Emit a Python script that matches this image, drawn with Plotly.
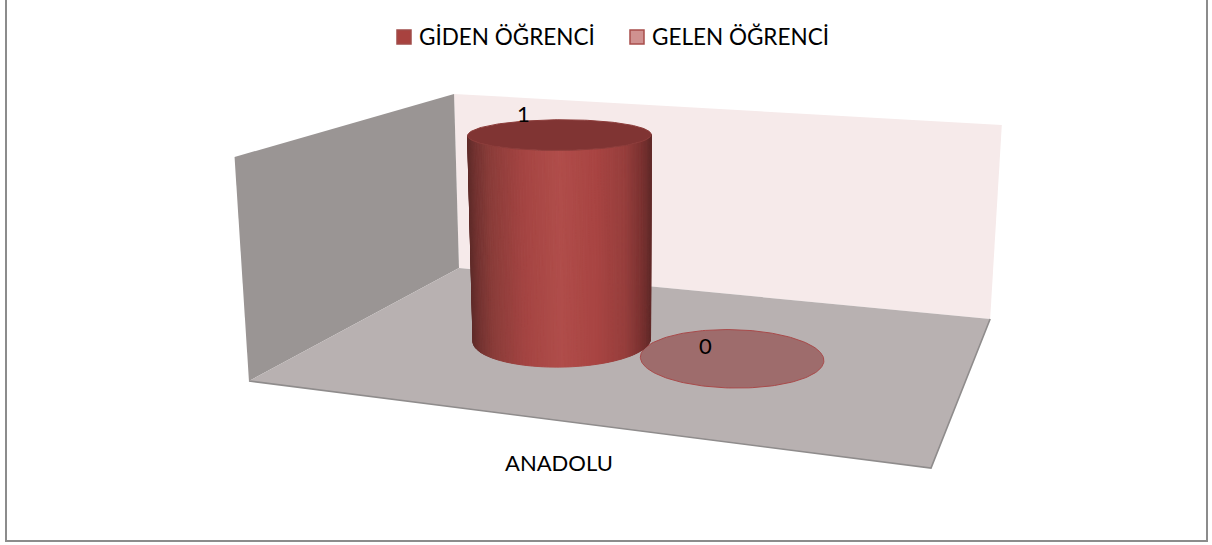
import numpy as np
import plotly.graph_objects as go

# ---- chart data ----
categories = ["ANADOLU"]
series_names = ["GİDEN ÖĞRENCİ", "GELEN ÖĞRENCİ"]
series_values = [1, 0]
axis_max = 1.0
series_swatch = ["#a8423f", "#d09190"]
series_swatch_line = ["#a04c49", "#a84d4b"]
series_top = ["#803433", "#9e6c6c"]
series_top_line = ["#8c3c3a", "#a84a4a"]
label_offsets = [(-36, -21), (-26, -12)]
legend_swatch_x = [404, 637]
legend_text_x = [417, 650]
LEGEND_Y = 37

# ---- 3-D box and camera (pinhole view of the chart's box) ----
BOX_W, BOX_D, BOX_H = 4.729, 3.231, 1.581
RADIUS = 0.675
FOCAL = 1439.0
PP = np.array([687.0, 228.0])
RX = np.array([0.9523, 0.0788, -0.2946])
RY = np.array([0.3048, -0.2171, 0.9272])
RZ = np.array([0.0091, -0.9731, -0.2306])
T = np.array([-3.044, 1.063, 10.0])


def cam(x, y, z):
    x, y, z = np.asarray(x, float), np.asarray(y, float), np.asarray(z, float)
    return np.stack([T[i] + x * RX[i] + y * RY[i] + z * RZ[i] for i in range(3)])


def proj(x, y, z):
    c = cam(x, y, z)
    return PP[0] + FOCAL * c[0] / c[2], PP[1] + FOCAL * c[1] / c[2]


def poly(fig, xs, ys, zs, fill, line=None, width=0.0):
    px, py = proj(xs, ys, zs)
    fig.add_trace(go.Scatter(
        x=list(px) + [px[0]], y=list(py) + [py[0]], mode="lines", fill="toself",
        fillcolor=fill, line=dict(color=line or fill, width=width),
        hoverinfo="skip", showlegend=False))


def edge(fig, xs, ys, zs, color, width):
    px, py = proj(xs, ys, zs)
    fig.add_trace(go.Scatter(x=px, y=py, mode="lines", line=dict(color=color, width=width),
                             hoverinfo="skip", showlegend=False))


fig = go.Figure()

# walls and floor
poly(fig, [0, BOX_W, BOX_W, 0], [BOX_D] * 4, [0, 0, BOX_H, BOX_H], "#f6eaea")
poly(fig, [0, 0, 0, 0], [0, BOX_D, BOX_D, 0], [0, 0, BOX_H, BOX_H], "#9a9594")
poly(fig, [0, BOX_W, BOX_W, 0], [0, 0, BOX_D, BOX_D], [0, 0, 0, 0], "#b8b1b1")
edge(fig, [0, BOX_W, BOX_W], [0, 0, BOX_D], [0, 0, 0], "#8f8c8c", 1.6)

# cylinders, one per series
n_series = len(series_values)
cat_center = BOX_W / 2 - 0.012
depth_center = BOX_D / 2
stops_s = [0.0, 0.04, 0.12, 0.3, 0.5, 0.7, 0.86, 0.95, 1.0]
stops_rgb = np.array([
    [0x5f, 0x2b, 0x29], [0x72, 0x32, 0x30], [0x8a, 0x3c, 0x39], [0xa4, 0x44, 0x42],
    [0xb0, 0x4d, 0x4a], [0xa8, 0x44, 0x42], [0x96, 0x3e, 0x3c], [0x7a, 0x31, 0x30],
    [0x62, 0x2a, 0x29]])
THETA = np.linspace(0, 2 * np.pi, 181)

order = sorted(range(n_series), key=lambda k: series_values[k])
for k in order:
    v = series_values[k]
    cx = cat_center + (k - (n_series - 1) / 2) * 2 * RADIUS
    h = v / axis_max * BOX_H
    xs = cx + RADIUS * np.cos(THETA)
    ys = depth_center + RADIUS * np.sin(THETA)
    if v > 0:
        px_all, _ = proj(xs, ys, 0 * xs)
        left, right = px_all.min(), px_all.max()
        for i in range(len(THETA) - 1):
            mid = (THETA[i] + THETA[i + 1]) / 2
            normal = np.cos(mid) * RX + np.sin(mid) * RY
            pos = cam(cx + RADIUS * np.cos(mid), depth_center + RADIUS * np.sin(mid), 0.0)
            if normal @ pos >= 0:
                continue
            mx, _ = proj(cx + RADIUS * np.cos(mid), depth_center + RADIUS * np.sin(mid), 0.0)
            s = float((mx - left) / (right - left))
            rgb = [int(round(np.interp(s, stops_s, stops_rgb[:, c]))) for c in range(3)]
            col = "rgb(%d,%d,%d)" % tuple(rgb)
            poly(fig, [xs[i], xs[i + 1], xs[i + 1], xs[i]], [ys[i], ys[i + 1], ys[i + 1], ys[i]],
                 [0, 0, h, h], col, col, 1.0)
    poly(fig, xs, ys, h + 0 * xs, series_top[k], series_top_line[k], 1.0)

# labels
annotations = []
for k, v in enumerate(series_values):
    cx = cat_center + (k - (n_series - 1) / 2) * 2 * RADIUS
    ax, ay = proj(cx, depth_center, v / axis_max * BOX_H)
    annotations.append(dict(x=float(ax), y=float(ay), xref="x", yref="y", text=str(v), showarrow=False,
                            xshift=label_offsets[k][0], yshift=-label_offsets[k][1],
                            font=dict(family="Lato", size=22, color="#000000")))
ax, ay = proj(cat_center, 0.0, 0.0)
annotations.append(dict(x=float(ax), y=float(ay), xref="x", yref="y", text=categories[0], showarrow=False,
                        xshift=-4, yshift=-41, font=dict(family="Lato", size=22, color="#000000")))

# legend: swatch and text for each series
for name, c, lc, sx, tx in zip(series_names, series_swatch, series_swatch_line, legend_swatch_x, legend_text_x):
    fig.add_trace(go.Scatter(x=[sx], y=[LEGEND_Y], mode="markers", name=name, showlegend=False,
                             hoverinfo="name",
                             marker=dict(symbol="square", size=14, color=c, line=dict(color=lc, width=1.5))))
    annotations.append(dict(x=tx, y=LEGEND_Y - 1, xref="x", yref="y", text=name, showarrow=False,
                            xanchor="left", font=dict(family="Lato", size=22.5, color="#000000")))

fig.update_layout(
    width=1212, height=545, margin=dict(l=0, r=0, t=0, b=0),
    paper_bgcolor="#ffffff", plot_bgcolor="#ffffff", showlegend=False,
    xaxis=dict(range=[0, 1212], visible=False, fixedrange=True),
    yaxis=dict(range=[545, 0], visible=False, fixedrange=True),
    font=dict(family="Lato", size=22, color="#000000"),
    annotations=annotations,
    shapes=[dict(type="path", path="M 6 0 L 6 541 L 1207 541 L 1207 0", xref="x", yref="y",
                 line=dict(color="#8c8c8c", width=2))],
)
fig.write_html("out.html", post_script="document.body.style.margin='0';", config={"displayModeBar": False})
